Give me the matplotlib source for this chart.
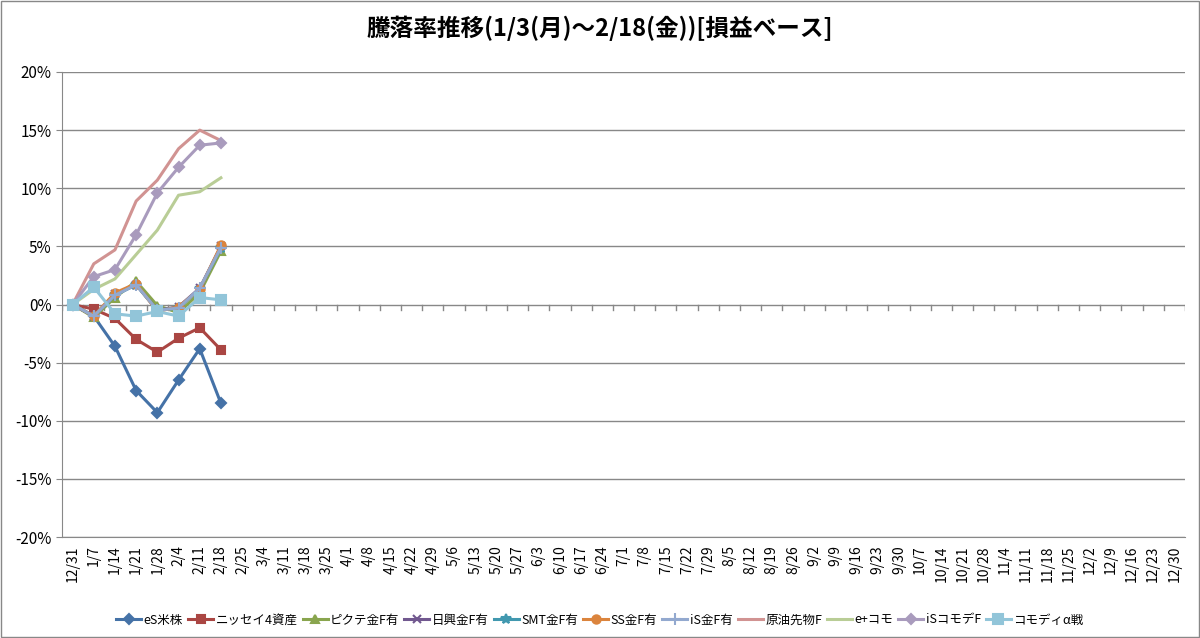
import matplotlib
matplotlib.use("Agg")
import matplotlib.pyplot as plt
import numpy as np
import datetime as dt

plt.rcParams['font.family'] = ['Noto Sans CJK JP', 'DejaVu Sans']

start = dt.date(2021, 12, 31)
tick_labels = [f"{(start+dt.timedelta(weeks=i)).month}/{(start+dt.timedelta(weeks=i)).day}" for i in range(53)]

names = ["eS米株", "ニッセイ4資産", "ピクテ金F有", "日興金F有", "SMT金F有", "SS金F有", "iS金F有",
         "原油先物F", "e+コモ", "iSコモデF", "コモディα戦"]
eS = [0, -1.0, -3.6, -7.4, -9.3, -6.5, -3.8, -8.5]
nissay = [0, -0.4, -1.2, -3.0, -4.1, -2.9, -2.0, -3.9]
pictet = [0, -1.1, 0.6, 2.0, -0.1, -0.7, 1.0, 4.6]
nikko = [0, -1.0, 0.9, 1.7, -0.5, -0.2, 1.4, 5.0]
smt = [0, -1.0, 0.8, 1.7, -0.5, -0.3, 1.3, 4.9]
ss = [0, -1.0, 1.0, 1.8, -0.6, -0.2, 1.3, 5.1]
isg = [0, -1.0, 0.8, 1.7, -0.5, -0.3, 1.4, 4.9]
oil = [0, 3.5, 4.7, 8.9, 10.7, 13.4, 15.0, 14.1]
eplus = [0, 1.3, 2.2, 4.3, 6.4, 9.4, 9.7, 10.9]
iscom = [0, 2.4, 3.0, 6.0, 9.6, 11.8, 13.7, 13.9]
alpha = [0, 1.5, -0.8, -1.0, -0.6, -1.0, 0.6, 0.4]
series = [eS, nissay, pictet, nikko, smt, ss, isg, oil, eplus, iscom, alpha]
colors = ["#4572A7", "#AA4643", "#89A54E", "#71588F", "#4198AF", "#DB843D", "#93A9CF",
          "#D19392", "#B9CD96", "#A99BBD", "#92C5D9"]
markers = ["D", "s", "^", "x", "*", "o", "+", None, None, "D", "s"]
msizes = [5, 6, 6, 6, 7, 6, 8, 0, 0, 5, 7]

fig = plt.figure(figsize=(12, 6.38), dpi=100)
ax = fig.add_axes([62/1200, 1-537/638, 1123/1200, 465/638])
for s, n, c, m, ms in zip(series, names, colors, markers, msizes):
    ax.plot(range(len(s)), s, color=c, lw=2.2, marker=m, ms=ms, label=n, mew=1.5)

ax.set_ylim(-20, 20)
ax.set_yticks(np.arange(-20, 21, 5))
ax.set_yticklabels([f"{v}%" for v in range(-20, 21, 5)], fontsize=11)
ax.set_xlim(-0.5, 52.5)
ax.set_xticks(range(53))
ax.set_xticklabels(tick_labels, fontsize=10)
ax.tick_params(axis='x', labelrotation=90, length=0, pad=6)
ax.grid(axis='y', color='#888888', lw=1)
ax.set_axisbelow(True)
for sp in ['top', 'right']:
    ax.spines[sp].set_visible(False)
ax.spines['left'].set_color('#888888')
ax.spines['bottom'].set_color('#888888')
ax.tick_params(axis='y', length=4, color='#888888')
for i in range(54):
    ax.plot([i - 0.5, i - 0.5], [-0.45, 0], color='#888888', lw=1, zorder=0)
fig.suptitle("騰落率推移(1/3(月)～2/18(金))[損益ベース]", y=0.975, fontsize=17, fontweight='bold')
fig.legend(loc='lower center', bbox_to_anchor=(0.5, 0.0), ncol=11, frameon=False, fontsize=9,
           handlelength=2.0, columnspacing=0.4, handletextpad=0.2)
rect = plt.Rectangle((0.001, 0.001), 0.998, 0.997, transform=fig.transFigure, fill=False, ec='#888888', lw=1)
fig.patches.append(rect)
fig.savefig("out.png", dpi=100)
